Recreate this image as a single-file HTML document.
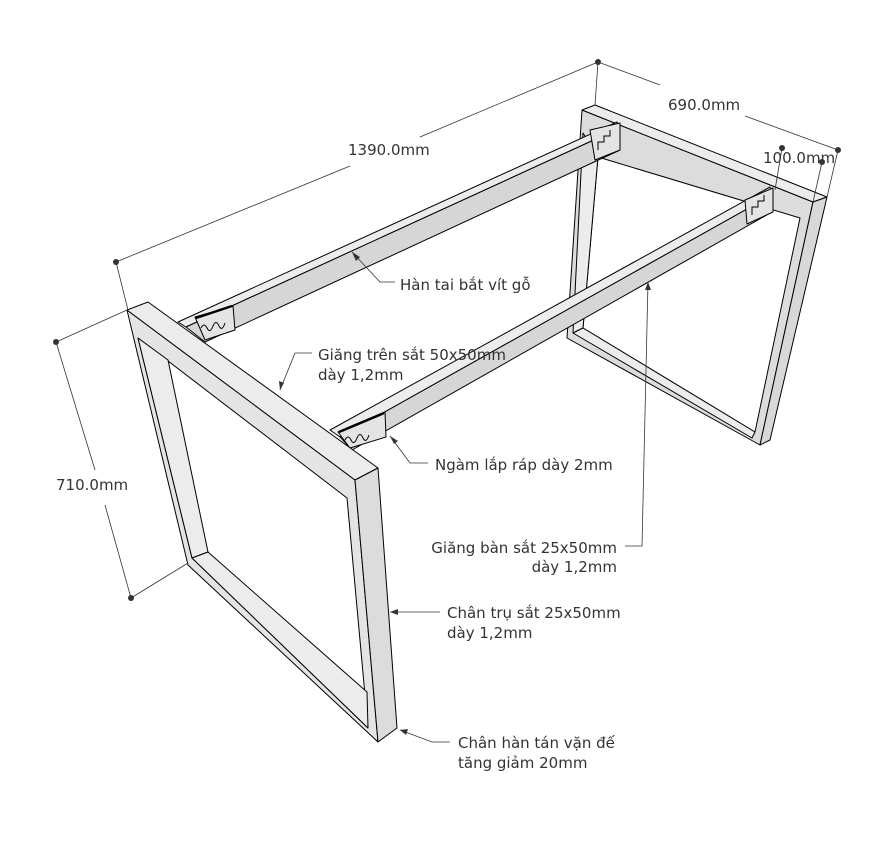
<!DOCTYPE html>
<html><head><meta charset="utf-8"><style>
html,body{margin:0;padding:0;background:#fff;}
svg{display:block;}
text{font-family:"DejaVu Sans","Liberation Sans",sans-serif;font-size:15px;fill:#333;}
</style></head><body>
<svg width="874" height="856" viewBox="0 0 874 856" xmlns="http://www.w3.org/2000/svg">
<g stroke="#000" stroke-width="1" stroke-linejoin="round">
<!-- back frame -->
<polygon points="582,110 813,202 760,445 567,338" fill="#dcdcdc"/>
<polygon points="598,157 800,218 755,432 583,328" fill="#fff"/>
<polygon points="583,133 598,157 583,328 573,333" fill="#ececec"/>
<polygon points="573,333 583,328 755,432 752,438" fill="#ececec"/>
<polygon points="582,110 595,105 827,197 813,202" fill="#ececec"/>
<polygon points="813,202 827,197 770,440 760,445" fill="#d8d8d8"/>
<!-- rail 1 (back) -->
<polygon points="178,322 617,122 620,128 186,327" fill="#ececec"/>
<polygon points="186,327 620,128 620,150 205,342" fill="#d6d6d6"/>
<!-- rail 2 (front) -->
<polygon points="330,430 770,187 772,195 340,437" fill="#ececec"/>
<polygon points="340,437 772,195 772,212 352,450" fill="#d6d6d6"/>
<!-- joints -->
<polygon points="195,317 233,306 235,330 205,340" fill="#e4e4e4"/>
<polygon points="590,130 620,123 620,150 595,160" fill="#e4e4e4"/>
<polygon points="338,432 385,412 386,437 350,448" fill="#e4e4e4"/>
<polygon points="745,200 773,188 773,212 747,224" fill="#e4e4e4"/>
<!-- front frame -->
<polygon points="127,310 355,480 378,742 188,565" fill="#e4e4e4"/>
<polygon points="138,338 347,498 368,728 192,558" fill="#fff"/>
<polygon points="138,338 168,360 208,552 192,558" fill="#ececec"/>
<polygon points="192,558 208,552 367,692 368,728" fill="#ececec"/>
<polygon points="127,310 148,302 378,468 355,480" fill="#ececec"/>
<polygon points="355,480 378,468 397,728 378,742" fill="#dcdcdc"/>
</g>
<g fill="none" stroke="#000" stroke-width="1">
<path d="M196,318 L232,306" stroke-width="2.5"/>
<path d="M339,432 L384,413" stroke-width="2.5"/>
<path d="M201,328 q3,-6 6,0 q3,6 6,-2 q3,-7 6,0 q3,6 6,-3"/>
<path d="M345,440 q3,-6 6,0 q3,6 6,-2 q3,-7 6,0 q3,6 6,-3"/>
<path d="M598,150 l0,-8 l6,0 l0,-6 l6,0 l0,-6"/>
<path d="M752,215 l0,-8 l6,0 l0,-6 l6,0 l0,-6"/>
</g>
<!-- dimensions -->
<g stroke="#333" stroke-width="0.8" fill="none">
<path d="M116,262 L350,166 M420,137 L598,62"/>
<path d="M116,262 L128,310 M598,62 L595,105"/>
<path d="M598,62 L660,85 M745,116 L838,150"/>
<path d="M838,150 L827,197 M782,148 L775,190 M822,162 L813,202"/>
<path d="M56,342 L127,310 M131,598 L188,563"/>
<path d="M56,342 L95,470 M105,505 L131,598"/>
<path d="M352,252 L380,282 L395,282"/>
<path d="M295,353 L280,390 M295,353 L312,353"/>
<path d="M390,436 L410,463 L428,463"/>
<path d="M625,546 L642,546 L648,282"/>
<path d="M440,612 L390,612"/>
<path d="M450,742 L432,742 L400,730"/>
</g>
<g fill="#333">
<circle cx="116" cy="262" r="3"/><circle cx="598" cy="62" r="3"/><circle cx="838" cy="150" r="3"/>
<circle cx="782" cy="148" r="3"/><circle cx="822" cy="162" r="3"/>
<circle cx="56" cy="342" r="3"/><circle cx="131" cy="598" r="3"/>
<polygon points="352,252 360,257 356,261"/>
<polygon points="280,390 279,381 284,383"/>
<polygon points="390,436 398,441 394,444"/>
<polygon points="648,282 645,290 651,290"/>
<polygon points="390,612 398,609 398,615"/>
<polygon points="400,730 408,729 406,735"/>
</g>
<text x="348" y="155">1390.0mm</text>
<text x="668" y="110">690.0mm</text>
<text x="763" y="163">100.0mm</text>
<text x="56" y="490">710.0mm</text>
<text x="400" y="290">Hàn tai bắt vít gỗ</text>
<text x="318" y="360">Giăng trên sắt 50x50mm</text>
<text x="318" y="380">dày 1,2mm</text>
<text x="435" y="470">Ngàm lắp ráp dày 2mm</text>
<text x="617" y="553" text-anchor="end">Giăng bàn sắt 25x50mm</text>
<text x="617" y="572" text-anchor="end">dày 1,2mm</text>
<text x="447" y="618">Chân trụ sắt 25x50mm</text>
<text x="447" y="638">dày 1,2mm</text>
<text x="458" y="748">Chân hàn tán vặn đế</text>
<text x="458" y="768">tăng giảm 20mm</text>
</svg>
</body></html>
